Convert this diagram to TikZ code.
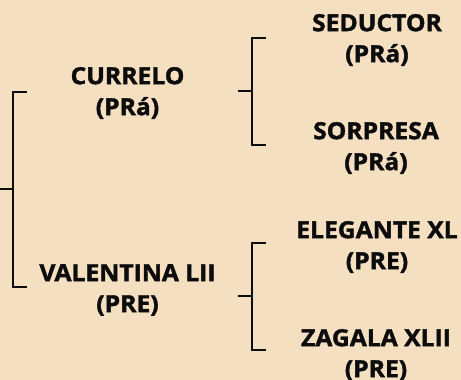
\documentclass[tikz,border=0pt]{standalone}
\usepackage{fontspec}
\setmainfont{Open Sans}[BoldFeatures={FakeBold=1.6,FakeStretch=1.05}]
\definecolor{bg}{RGB}{245,223,193}
\definecolor{ink}{RGB}{12,12,12}
\begin{document}
\begin{tikzpicture}[x=1pt,y=-1pt,
  lbl/.style={align=center,inner sep=0pt,text=ink,font=\bfseries\fontsize{23.5}{31}\selectfont},
  brk/.style={draw=ink,line width=2pt}]
\fill[bg] (0,0) rectangle (461,380);
\useasboundingbox (0,0) rectangle (461,380);
% labels
\node[lbl] (cur) at (127.5,93) {CURRELO\\(PRá)};
\node[lbl] (val) at (127.5,290) {VALENTINA LII\\(PRE)};
\node[lbl] (sed) at (377,40) {SEDUCTOR\\(PRá)};
\node[lbl] (sor) at (376,148) {SORPRESA\\(PRá)};
\node[lbl] (ele) at (377,247) {ELEGANTE XL\\(PRE)};
\node[lbl] (zag) at (376,355) {ZAGALA XLII\\(PRE)};
% bracket coordinates
\coordinate (root) at (0,189);
\coordinate (s0) at (12.5,189);
\coordinate (t0a) at (27,92);
\coordinate (t0b) at (27,287);
\coordinate (r1) at (238,91);
\coordinate (s1) at (252,91);
\coordinate (t1a) at (266,38);
\coordinate (t1b) at (266,145);
\coordinate (r2) at (238,296);
\coordinate (s2) at (252,296);
\coordinate (t2a) at (266,243);
\coordinate (t2b) at (266,350);
% brackets
\draw[brk] (t0a) -| (s0) |- (t0b);
\draw[brk] (root) -- (s0);
\draw[brk] (t1a) -| (s1) |- (t1b);
\draw[brk] (r1) -- (s1);
\draw[brk] (t2a) -| (s2) |- (t2b);
\draw[brk] (r2) -- (s2);
\end{tikzpicture}
\end{document}
